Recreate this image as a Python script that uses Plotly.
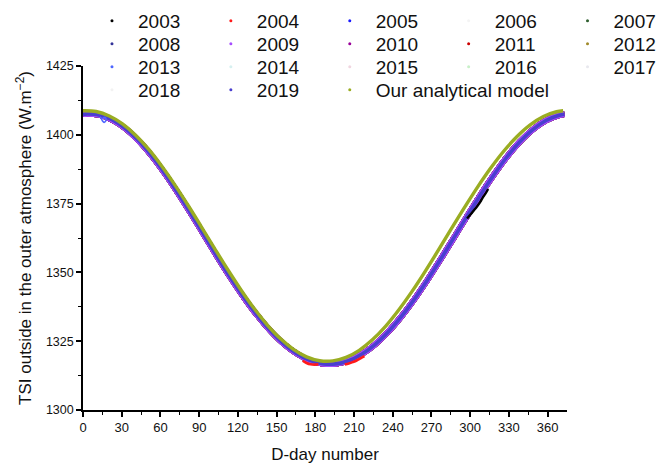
import plotly.graph_objects as go

# ---- observed TSI (typical annual curve, W/m^2) -------------------------
days_obs = [0, 2, 12.2, 22.4, 32.6, 42.8, 53, 63.2, 73.4, 83.6, 93.8, 103.9,
            114.1, 124.3, 134.5, 144.7, 154.9, 165.1, 175.3, 185.5, 195.7,
            205.9, 216, 226.2, 236.4, 246.6, 256.8, 267, 277.2, 287.4, 297.6,
            307.8, 318, 328.1, 338.3, 348.5, 358.7, 368.9, 373]
tsi_obs = [1407.45, 1407.53, 1407.24, 1405.50, 1402.39, 1398.00, 1392.49,
           1386.08, 1378.98, 1371.40, 1363.60, 1355.80, 1348.25, 1341.15,
           1334.68, 1329.03, 1324.31, 1320.66, 1318.14, 1316.84, 1316.76,
           1317.91, 1320.28, 1323.79, 1328.38, 1333.93, 1340.30, 1347.34,
           1354.84, 1362.62, 1370.43, 1378.05, 1385.24, 1391.75, 1397.37,
           1401.90, 1405.19, 1407.10, 1407.45]

# ---- analytical model -----------------------------------------------------
days_model = [0, 10.2, 20.4, 30.6, 40.8, 51, 61.1, 71.3, 81.5, 91.7, 101.9,
              112.1, 122.3, 132.5, 142.7, 152.9, 163.1, 173.2, 183.4, 193.6,
              203.8, 214, 224.2, 234.4, 244.6, 254.8, 265, 275.2, 285.3, 295.5,
              305.7, 315.9, 326.1, 336.3, 346.5, 356.7, 366.9, 372]
tsi_model = [1408.74, 1408.47, 1406.86, 1403.97, 1399.87, 1394.68, 1388.58,
             1381.72, 1374.31, 1366.58, 1358.75, 1351.05, 1343.72, 1336.96,
             1330.97, 1325.94, 1322.02, 1319.31, 1317.90, 1317.84, 1319.11,
             1321.69, 1325.50, 1330.41, 1336.34, 1343.01, 1350.30, 1357.97,
             1365.80, 1373.55, 1381.00, 1387.92, 1394.12, 1399.39, 1403.61,
             1406.63, 1408.37, 1408.74]

# ---- years where the record departs from the typical curve -----------------
days_2003_dev = [297.6, 300.6, 303.7, 305.7, 307.8, 309.8, 311.8, 313.9]
tsi_2003_dev = [1369.6, 1371.2, 1373.0, 1374.2, 1375.6, 1377.3, 1378.6, 1380.3]

days_2004_dev_a = [170.2, 173.2, 176.3, 179.4, 182.4]
tsi_2004_dev_a = [1317.9, 1317.1, 1316.6, 1316.5, 1316.6]
days_2004_dev_b = [202.8, 205.9, 208.9, 212, 215, 218.1]
tsi_2004_dev_b = [1316.5, 1316.9, 1317.4, 1318.0, 1318.8, 1319.6]

days_2013_dev = [13.2, 14.3, 15.3, 16.3, 17.3, 17.9, 17.3, 16.3, 15.3]
tsi_2013_dev = [1406.6, 1405.8, 1404.9, 1404.5, 1404.8, 1405.6, 1406.2, 1406.3, 1406.0]

years = ["2003", "2004", "2005", "2006", "2007", "2008", "2009", "2010", "2011",
         "2012", "2013", "2014", "2015", "2016", "2017", "2018", "2019"]
model_name = "Our analytical model"

colors = {
    "2003": "#000000", "2004": "#ff1a1a", "2005": "#1a1aff", "2006": "#f4f4f4",
    "2007": "#2f5f2f", "2008": "#333399", "2009": "#a64dff", "2010": "#990099",
    "2011": "#cc0000", "2012": "#a08a2a", "2013": "#4d66ff", "2014": "#d6f0f0",
    "2015": "#f0d6e0", "2016": "#c8f0c8", "2017": "#e8e8ee", "2018": "#f2f2f2",
    "2019": "#4a3fcf", model_name: "#9aad22",
}

# order in which the yearly curves are stacked (light colours underneath)
draw_order = ["2006", "2014", "2015", "2016", "2017", "2018", "2003", "2005",
              "2007", "2008", "2011", "2012", "2004", "2013", "2010", "2009",
              "2019"]

font = "Arial, Liberation Sans, sans-serif"
fig = go.Figure()

for y in draw_order:
    fig.add_trace(go.Scatter(
        x=days_obs, y=tsi_obs, mode="lines", line_shape="spline",
        line=dict(color=colors[y], width=3.6 if y == "2019" else 5.6),
        showlegend=False, hoverinfo="skip", legendgroup=y))

for dx, dy, y, w in [(days_2003_dev, tsi_2003_dev, "2003", 2.4),
                     (days_2004_dev_a, tsi_2004_dev_a, "2004", 2.6),
                     (days_2004_dev_b, tsi_2004_dev_b, "2004", 2.6),
                     (days_2013_dev, tsi_2013_dev, "2013", 1.6)]:
    fig.add_trace(go.Scatter(
        x=dx, y=dy, mode="lines", line_shape="spline",
        line=dict(color=colors[y], width=w),
        showlegend=False, hoverinfo="skip", legendgroup=y))

fig.add_trace(go.Scatter(
    x=days_model, y=tsi_model, mode="lines", line_shape="spline",
    line=dict(color=colors[model_name], width=3.4),
    showlegend=False, hoverinfo="skip", legendgroup=model_name))

# legend: 5 columns x 4 rows, one single-item legend per entry
left, plot_w, top, plot_h = 83, 484.5, 66, 344
col_text_x = [138, 257, 376, 495, 614]
row_mid_y = [20, 43, 66, 89]
entries = years + [model_name]
layout_legends = {}
for i, name in enumerate(entries):
    key = "legend" if i == 0 else f"legend{i + 1}"
    r, c = divmod(i, 5)
    fig.add_trace(go.Scatter(
        x=[None], y=[None], mode="markers", name=name, legend=key,
        marker=dict(color=colors[name], size=3), legendgroup=name))
    layout_legends[key] = dict(
        x=(col_text_x[c] - 52 - left) / plot_w,
        y=1 + (top - (row_mid_y[r] - 18)) / plot_h,
        xanchor="left", yanchor="top", bgcolor="rgba(0,0,0,0)",
        borderwidth=0, itemwidth=42,
        font=dict(family=font, size=19, color="#111111"))

fig.update_layout(
    width=663, height=464,
    margin=dict(l=left, r=663 - left - plot_w, t=top, b=464 - top - plot_h,
                autoexpand=False),
    paper_bgcolor="white", plot_bgcolor="white",
    font=dict(family=font, color="#111111"),
    **layout_legends,
)

fig.update_xaxes(
    range=[0, 375], tickvals=list(range(0, 361, 30)),
    showline=True, linecolor="black", linewidth=1.6,
    ticks="outside", ticklen=5, tickwidth=1.6, tickcolor="black",
    minor=dict(tickvals=list(range(15, 361, 30)), ticks="outside", ticklen=3,
               tickwidth=1.4, tickcolor="black"),
    showgrid=False, zeroline=False,
    tickfont=dict(family=font, size=13, color="#111111"),
    title=dict(text="D-day number", font=dict(family=font, size=17, color="#111111"),
               standoff=15),
)
fig.update_yaxes(
    range=[1300, 1425], tickvals=[1300, 1325, 1350, 1375, 1400, 1425],
    showline=True, linecolor="black", linewidth=1.6,
    ticks="outside", ticklen=5, tickwidth=1.6, tickcolor="black",
    minor=dict(tickvals=[1312.5, 1337.5, 1362.5, 1387.5, 1412.5], ticks="outside",
               ticklen=3, tickwidth=1.4, tickcolor="black"),
    showgrid=False, zeroline=False,
    tickfont=dict(family=font, size=12.5, color="#111111"),
    title=dict(text="TSI outside in the outer atmosphere (W.m<sup>\u22122</sup>)",
               font=dict(family=font, size=17, color="#111111"), standoff=10),
)

fig.write_html("out.html")
